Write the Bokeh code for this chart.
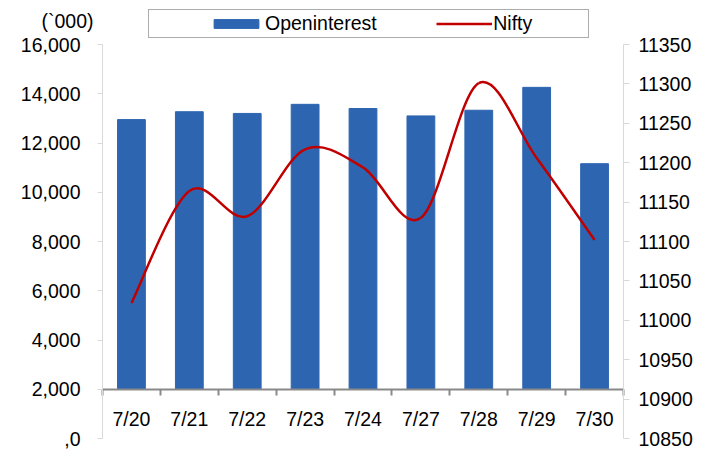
import numpy as np
from bokeh.plotting import figure
from bokeh.models import (Range1d, LinearAxis, FixedTicker, NumeralTickFormatter,
                          Legend, LegendItem, Label)
from bokeh.embed import file_html
from bokeh.resources import INLINE

dates = ["7/20", "7/21", "7/22", "7/23", "7/24", "7/27", "7/28", "7/29", "7/30"]
open_interest = [12950, 13270, 13200, 13570, 13400, 13100, 13330, 14260, 11160]
nifty = [11022, 11164, 11132, 11217, 11194, 11130, 11301, 11206, 11102]
left_ticks = list(range(0, 16001, 2000))
right_ticks = list(range(10850, 11351, 50))

FONT = "Liberation Sans"
FS = "19.5px"
BAR = "#2E65B1"
LINE = "#C00000"

W, H = 696, 450
# pixel layout of the plotting area inside the canvas
PL, PR, PT, PB = 102, 623, 44, 438
n = len(dates)
lo, hi = left_ticks[0], left_ticks[-1]
rlo, rhi = right_ticks[0], right_ticks[-1]
ux = n / (PR - PL)
uy = (hi - lo) / (PB - PT)
ury = (rhi - rlo) / (PB - PT)

p = figure(width=W, height=H, output_backend="svg", toolbar_location=None,
           x_range=Range1d(-PL * ux, n + (W - PR) * ux),
           y_range=Range1d(lo - (H - PB) * uy, hi + PT * uy),
           min_border=0)
p.extra_y_ranges = {"nifty": Range1d(rlo - (H - PB) * ury, rhi + PT * ury)}
p.xgrid.visible = False
p.ygrid.visible = False
p.outline_line_color = None

idx = np.arange(n)
xc = idx + 0.5

# category axis crossing the value axis at 2,000
xa = p.xaxis[0]
xa.ticker = FixedTicker(ticks=list(xc), minor_ticks=list(range(n + 1)))
xa.major_label_overrides = {float(x): d for x, d in zip(xc, dates)}
xa.fixed_location = 2000
xa.bounds = (0, n)
xa.axis_line_color = "#898989"
xa.axis_line_width = 2
xa.major_tick_line_color = None
xa.major_tick_out = 0
xa.major_tick_in = 0
xa.minor_tick_line_color = "#898989"
xa.minor_tick_line_width = 2
xa.minor_tick_out = 6
xa.minor_tick_in = 0
xa.major_label_standoff = 13
xa.major_label_text_font = FONT
xa.major_label_text_font_size = FS
xa.major_label_text_color = "black"

ya = p.yaxis[0]
ya.ticker = FixedTicker(ticks=left_ticks)
ya.formatter = NumeralTickFormatter(format="0,0")
ya.major_label_overrides = {0: ",0"}
ya.fixed_location = 0
ya.bounds = (lo, hi)
ya.axis_line_color = "#D9D9D9"
ya.major_tick_line_color = "#D9D9D9"
ya.major_tick_out = 5
ya.major_tick_in = 0
ya.minor_tick_line_color = None
ya.major_label_standoff = 17
ya.major_label_text_font = FONT
ya.major_label_text_font_size = FS
ya.major_label_text_color = "black"

ra = LinearAxis(y_range_name="nifty", ticker=FixedTicker(ticks=right_ticks))
ra.fixed_location = n
ra.bounds = (rlo, rhi)
ra.axis_line_color = "#D9D9D9"
ra.major_tick_line_color = "#D9D9D9"
ra.major_tick_out = 6
ra.major_tick_in = 0
ra.minor_tick_line_color = None
ra.major_label_standoff = 9
ra.major_label_text_font = FONT
ra.major_label_text_font_size = FS
ra.major_label_text_color = "black"
p.add_layout(ra, "right")

bars = p.vbar(x=xc, bottom=2000, top=open_interest, width=0.48,
              fill_color=BAR, line_color=BAR)

# smoothed line (Catmull-Rom style Bezier between data points)
px = np.array(xc, dtype=float)
py = np.array(nifty, dtype=float)
pxe = np.concatenate([[px[0]], px, [px[-1]]])
pye = np.concatenate([[py[0]], py, [py[-1]]])
x0 = px[:-1]; y0 = py[:-1]; x1 = px[1:]; y1 = py[1:]
cx0 = x0 + (pxe[2:-1] - pxe[0:-3]) / 6.0
cy0 = y0 + (pye[2:-1] - pye[0:-3]) / 6.0
cx1 = x1 - (pxe[3:] - pxe[1:-2]) / 6.0
cy1 = y1 - (pye[3:] - pye[1:-2]) / 6.0
line = p.bezier(x0=x0, y0=y0, x1=x1, y1=y1, cx0=cx0, cy0=cy0, cx1=cx1, cy1=cy1,
                y_range_name="nifty", line_color=LINE, line_width=2.5)

dummy = p.vbar(x=[0.5], bottom=[0], top=[0], width=0.0,
               fill_alpha=0, line_alpha=0)

legend = Legend(items=[
    LegendItem(label="", renderers=[dummy]),
    LegendItem(label="Openinterest" + " " * 11, renderers=[bars]),
    LegendItem(label="Nifty" + " " * 10, renderers=[line]),
], orientation="horizontal", location=(148, H - 38), padding=2, spacing=0,
    margin=0, glyph_width=56, glyph_height=11, label_standoff=1,
    label_width=0, border_line_color="#595959", border_line_width=1,
    background_fill_color="white", label_text_font=FONT,
    label_text_font_size=FS, label_text_color="black")
p.add_layout(legend, "center")

p.add_layout(Label(x=41, y=H - 20, x_units="screen", y_units="screen",
                   text="(`000)", text_font=FONT, text_font_size=FS,
                   text_baseline="alphabetic", text_color="black"))

open("out.html", "w").write(file_html(p, INLINE))
